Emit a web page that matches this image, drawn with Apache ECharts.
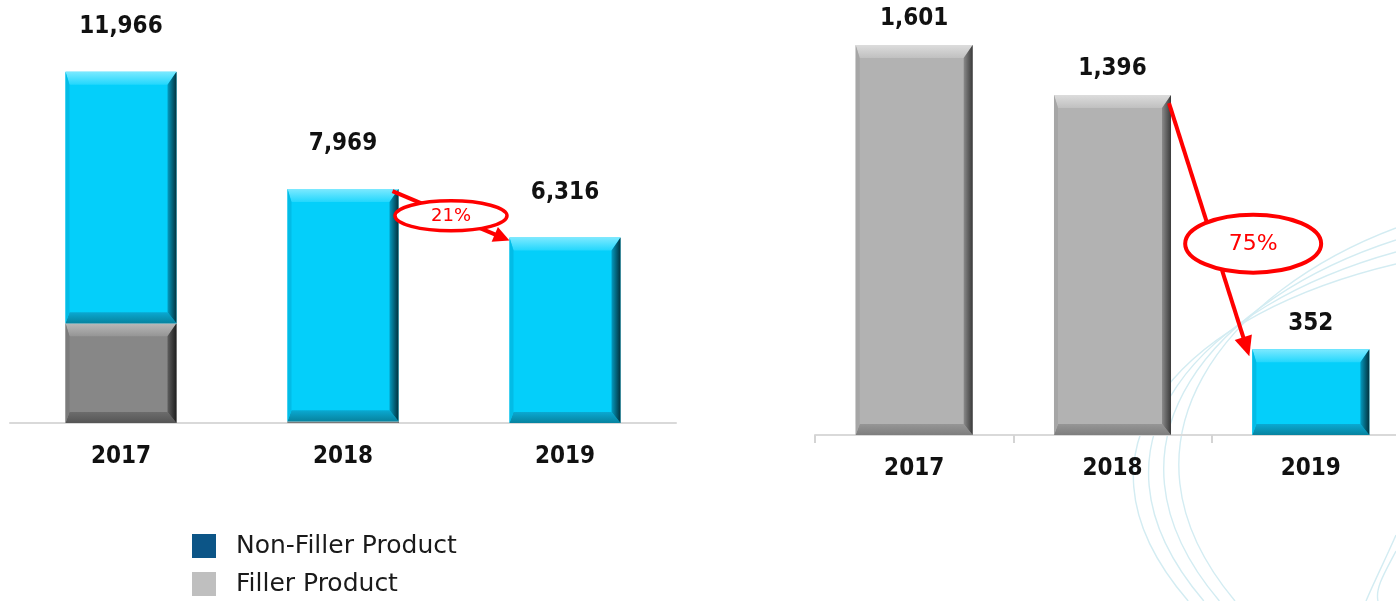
<!DOCTYPE html>
<html>
<head>
<meta charset="utf-8">
<script src="https://cdn.jsdelivr.net/npm/echarts@6/dist/echarts.min.js"></script>
<style>
  html, body { margin: 0; padding: 0; background: #ffffff; }
  #chart { width: 1396px; height: 601px; }
</style>
</head>
<body>
<div id="chart"></div>
<script>
// ---- data ----
const years = ['2017', '2018', '2019'];
// left panel: volume split by product type
const leftFiller = [3400, 60, 0];
const leftNonFiller = [8566, 7909, 6316];
// right panel
const rightFiller = [1601, 1396, 0];
const rightNonFiller = [0, 0, 352];
const legendNames = ['Non-Filler Product', 'Filler Product'];

const FONT_BOLD = "'DejaVu Sans Condensed', 'DejaVu Sans', sans-serif";
const FONT = "'DejaVu Sans', sans-serif";

const leftTotals = years.map((_, i) => leftFiller[i] + leftNonFiller[i]);
const rightTotals = years.map((_, i) => rightFiller[i] + rightNonFiller[i]);

// stacked segments as [category, base, top]
function segments(lower, upper, useUpper) {
  return years.map((_, i) => useUpper
    ? [i, lower[i], lower[i] + upper[i]]
    : [i, 0, lower[i]]);
}

// shaded palettes for the bevelled bars
const CYAN = { face: '#04CFFA', top: ['#7CE9FF', '#22D7FD'], bottom: ['#0AA9D2', '#07839F'],
               left: '#03BCE6', right: ['#049BC0', '#02313D'] };
const GRAY_DARK = { face: '#878787', top: ['#B9B9B9', '#959595'], bottom: ['#6C6C6C', '#555555'],
                    left: '#7B7B7B', right: ['#5E5E5E', '#1E1E1E'] };
const GRAY_LIGHT = { face: '#B2B2B2', top: ['#DCDCDC', '#C0C0C0'], bottom: ['#969696', '#7E7E7E'],
                     left: '#A6A6A6', right: ['#8A8A8A', '#3A3A3A'] };

function vGrad(c0, c1) {
  return new echarts.graphic.LinearGradient(0, 0, 0, 1, [{ offset: 0, color: c0 }, { offset: 1, color: c1 }]);
}
function hGrad(c0, c1) {
  return new echarts.graphic.LinearGradient(0, 0, 1, 0, [{ offset: 0, color: c0 }, { offset: 1, color: c1 }]);
}

// bar drawn as a bevelled block: face plus four slanted edges
function bevelBar(pal, widthRatio) {
  return function (params, api) {
    const cat = api.value(0), lo = api.value(1), hi = api.value(2);
    if (!(hi - lo > 0)) return;
    const pLo = api.coord([cat, lo]);
    const pHi = api.coord([cat, hi]);
    const bw = api.size([1, 0])[0] * widthRatio;
    const x = pLo[0] - bw / 2, y = pHi[1], w = bw, h = pLo[1] - pHi[1];
    const t = Math.min(13, h * 0.3), b = Math.min(11, h * 0.3);
    const l = Math.min(4, h * 0.3), r = Math.min(9, h * 0.4);
    const poly = (pts, fill) => ({ type: 'polygon', shape: { points: pts }, style: { fill: fill } });
    return {
      type: 'group',
      children: [
        { type: 'rect', shape: { x: x, y: y, width: w, height: h }, style: { fill: pal.face } },
        poly([[x, y], [x + w, y], [x + w - r, y + t], [x + l, y + t]], vGrad(pal.top[0], pal.top[1])),
        poly([[x, y + h], [x + w, y + h], [x + w - r, y + h - b], [x + l, y + h - b]], vGrad(pal.bottom[0], pal.bottom[1])),
        poly([[x, y], [x + l, y + t], [x + l, y + h - b], [x, y + h]], pal.left),
        poly([[x + w, y], [x + w - r, y + t], [x + w - r, y + h - b], [x + w, y + h]], hGrad(pal.right[0], pal.right[1]))
      ]
    };
  };
}

// total value written above each stack
function totalLabel(offset) {
  return function (params, api) {
    const p = api.coord([api.value(0), api.value(1)]);
    return {
      type: 'text',
      x: p[0], y: p[1] - offset,
      style: {
        text: api.value(1).toLocaleString('en-US'),
        fill: '#111111', font: 'bold 24px ' + FONT_BOLD,
        align: 'center', verticalAlign: 'middle'
      }
    };
  };
}

const xLabel = { color: '#111111', fontSize: 24, fontWeight: 'bold', fontFamily: FONT_BOLD, lineHeight: 24, margin: 22 };

const chart = echarts.init(document.getElementById('chart'), null, { renderer: 'canvas' });

chart.setOption({
  animation: false,
  backgroundColor: '#ffffff',
  legend: {
    data: legendNames,
    orient: 'vertical',
    left: 192, top: 529.5,
    icon: 'rect',
    itemWidth: 24, itemHeight: 24, itemGap: 5,
    padding: 0,
    selectedMode: false,
    textStyle: { color: '#1a1a1a', fontSize: 25, lineHeight: 25, fontFamily: FONT, padding: [8, 0, 0, 15] }
  },
  grid: [
    { left: 10, top: 12, width: 666, height: 411, outerBoundsMode: 'none' },
    { left: 815, top: 21, width: 595, height: 414, outerBoundsMode: 'none' }
  ],
  xAxis: [
    { gridIndex: 0, type: 'category', data: years, boundaryGap: true,
      axisLine: { lineStyle: { color: '#d9d9d9', width: 2 } },
      axisTick: { show: false }, axisLabel: xLabel },
    { gridIndex: 1, type: 'category', data: years, boundaryGap: true,
      axisLine: { lineStyle: { color: '#d9d9d9', width: 2 } },
      axisTick: { show: true, length: 8, lineStyle: { color: '#d4d4d4', width: 2 } },
      axisLabel: Object.assign({}, xLabel, { margin: 22 }) }
  ],
  yAxis: [
    { gridIndex: 0, type: 'value', min: 0, max: 14000, show: false, splitLine: { show: false } },
    { gridIndex: 1, type: 'value', min: 0, max: 1700, show: false, splitLine: { show: false } }
  ],
  series: [
    { name: 'Filler Product', type: 'custom', xAxisIndex: 0, yAxisIndex: 0,
      itemStyle: { color: '#BFBFBF' }, renderItem: bevelBar(GRAY_DARK, 0.5),
      encode: { x: 0, y: [1, 2] }, data: segments(leftFiller, leftNonFiller, false), z: 2 },
    { name: 'Non-Filler Product', type: 'custom', xAxisIndex: 0, yAxisIndex: 0,
      itemStyle: { color: '#0C5587' }, renderItem: bevelBar(CYAN, 0.5),
      encode: { x: 0, y: [1, 2] }, data: segments(leftFiller, leftNonFiller, true), z: 2 },
    { name: 'Filler Product', type: 'custom', xAxisIndex: 1, yAxisIndex: 1,
      itemStyle: { color: '#BFBFBF' }, renderItem: bevelBar(GRAY_LIGHT, 0.59),
      encode: { x: 0, y: [1, 2] }, data: segments(rightFiller, rightNonFiller, false), z: 2 },
    { name: 'Non-Filler Product', type: 'custom', xAxisIndex: 1, yAxisIndex: 1,
      itemStyle: { color: '#0C5587' }, renderItem: bevelBar(CYAN, 0.59),
      encode: { x: 0, y: [1, 2] }, data: segments(rightFiller, rightNonFiller, true), z: 2 },
    { name: 'leftTotals', type: 'custom', xAxisIndex: 0, yAxisIndex: 0, silent: true,
      renderItem: totalLabel(45), encode: { x: 0, y: 1 },
      data: leftTotals.map((v, i) => [i, v]), z: 5 },
    { name: 'rightTotals', type: 'custom', xAxisIndex: 1, yAxisIndex: 1, silent: true,
      renderItem: totalLabel(26), encode: { x: 0, y: 1 },
      data: rightTotals.map((v, i) => [i, v]), z: 5 }
  ]
});

// ---- annotations: change arrows with circled percentage ----
const RED = '#FF0000';

function pct(a, b) { return Math.round((a - b) / a * 100) + '%'; }

function changeArrow(gridIndex, totals, ratio, opts) {
  const c1 = chart.convertToPixel({ gridIndex: gridIndex }, [years[1], totals[1]]);
  const c2 = chart.convertToPixel({ gridIndex: gridIndex }, [years[2], totals[2]]);
  const band = c2[0] - c1[0];
  const hw = band * ratio / 2;
  const s = [c1[0] + hw + opts.sdx, c1[1] + opts.sdy];
  const e = [c2[0] - hw + opts.edx, c2[1] + opts.edy];
  const ang = Math.atan2(e[1] - s[1], e[0] - s[0]);
  const ux = Math.cos(ang), uy = Math.sin(ang);
  const hl = opts.headLen, hwid = opts.headHalf;
  const base = [e[0] - ux * hl, e[1] - uy * hl];
  const mid = [(s[0] + e[0]) / 2 + opts.ox, (s[1] + e[1]) / 2 + opts.oy];
  return [
    { type: 'line', z: 20, shape: { x1: s[0], y1: s[1], x2: base[0] + ux * 2, y2: base[1] + uy * 2 },
      style: { stroke: RED, lineWidth: opts.lw } },
    { type: 'polygon', z: 20, shape: { points: [
        e, [base[0] - uy * hwid, base[1] + ux * hwid], [base[0] + uy * hwid, base[1] - ux * hwid]] },
      style: { fill: RED } },
    { type: 'ellipse', z: 21, shape: { cx: mid[0], cy: mid[1], rx: opts.rx, ry: opts.ry },
      style: { fill: '#ffffff', stroke: RED, lineWidth: opts.elw } },
    { type: 'text', z: 22, x: mid[0], y: mid[1] + 1,
      style: { text: pct(totals[1], totals[2]), fill: RED, font: opts.fs + 'px ' + FONT,
               align: 'center', verticalAlign: 'middle' } }
  ];
}

// faint swoosh lines in the lower right background
const swoosh = [];
for (let i = 0; i < 4; i++) {
  const d = i * 12;
  swoosh.push({ type: 'bezierCurve', z: 0, silent: true,
    shape: { x1: 1396, y1: 228 + d, cpx1: 1230 - d, cpy1: 290 + d * 0.6,
             cpx2: 1100 - d * 1.4, cpy2: 440, x2: 1235 - d * 1.3, y2: 601 },
    style: { stroke: '#d3ecf2', lineWidth: 1.4, fill: null } });
}
for (let i = 0; i < 2; i++) {
  swoosh.push({ type: 'bezierCurve', z: 0, silent: true,
    shape: { x1: 1396, y1: 535 + i * 16, cpx1: 1385, cpy1: 560 + i * 12,
             cpx2: 1375, cpy2: 580 + i * 8, x2: 1366 + i * 12, y2: 601 },
    style: { stroke: '#d3ecf2', lineWidth: 1.4, fill: null } });
}

const leftArrow = changeArrow(0, leftTotals, 0.5,
  { sdx: -6, sdy: 2, edx: 0, edy: 3, headLen: 16, headHalf: 8, lw: 4, ox: 0, oy: 0,
    rx: 56, ry: 15, elw: 3.5, fs: 18 });
const rightArrow = changeArrow(1, rightTotals, 0.59,
  { sdx: -2, sdy: 8, edx: -3, edy: 7, headLen: 20, headHalf: 9, lw: 4, ox: 44, oy: 14,
    rx: 68, ry: 29, elw: 4, fs: 22 });

chart.setOption({ graphic: { elements: swoosh.concat(leftArrow, rightArrow) } });
</script>
</body>
</html>
